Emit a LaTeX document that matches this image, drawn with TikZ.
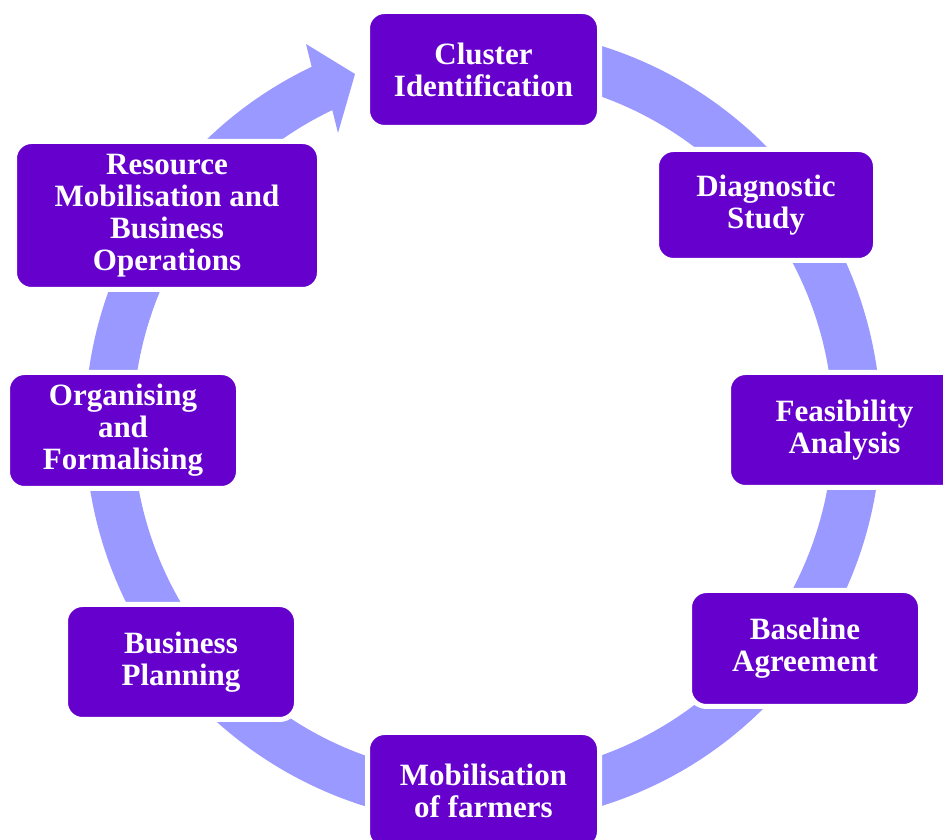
\documentclass[tikz,border=0pt]{standalone}
\usepackage{fontspec}
\setmainfont{Liberation Serif}
\usetikzlibrary{calc}
\definecolor{boxpurple}{HTML}{6600CC}
\definecolor{ringblue}{HTML}{9999FF}
\tikzset{
  stage/.style={fill=boxpurple, draw=white, line width=5pt, rounded corners=17pt,
    text=white, font=\bfseries\fontsize{31}{32}\selectfont, align=center, inner sep=0pt},
  ring/.style={fill=ringblue}
}
\begin{document}
\begin{tikzpicture}[x=1pt,y=1pt]
\useasboundingbox (0,0) rectangle (943,840);
\coordinate (C) at (483,414);
% circular arrow ring
\fill[ring] ($(C)+(100:398)$) arc[start angle=100, end angle=-244.5, radius=398pt]
  -- (306,796) -- (355,766) -- (338,707)
  -- ($(C)+(115.5:350)$) arc[start angle=-244.5, end angle=100, radius=350pt] -- cycle;
% stages
\node[stage, minimum width=232pt, minimum height=116pt] (s1) at (483.5,770.5) {Cluster\\Identification};
\node[stage, minimum width=219pt, minimum height=111pt] (s2) at (766,635) {Diagnostic\\Study};
\node[stage, minimum width=232pt, minimum height=115pt] (s3) at (844.5,410) {Feasibility\\Analysis};
\node[stage, minimum width=231pt, minimum height=116pt] (s4) at (805,191.5) {Baseline\\Agreement};
\node[stage, minimum width=232pt, minimum height=116pt] (s5) at (483.5,49.5) {Mobilisation\\of farmers};
\node[stage, minimum width=231pt, minimum height=115pt] (s6) at (181,178) {Business\\Planning};
\node[stage, minimum width=231pt, minimum height=116pt] (s7) at (123,409.5) {Organising\\and\\Formalising};
\node[stage, minimum width=305pt, minimum height=148pt] (s8) at (167,624.5) {Resource\\Mobilisation and\\Business\\Operations};
\end{tikzpicture}
\end{document}
